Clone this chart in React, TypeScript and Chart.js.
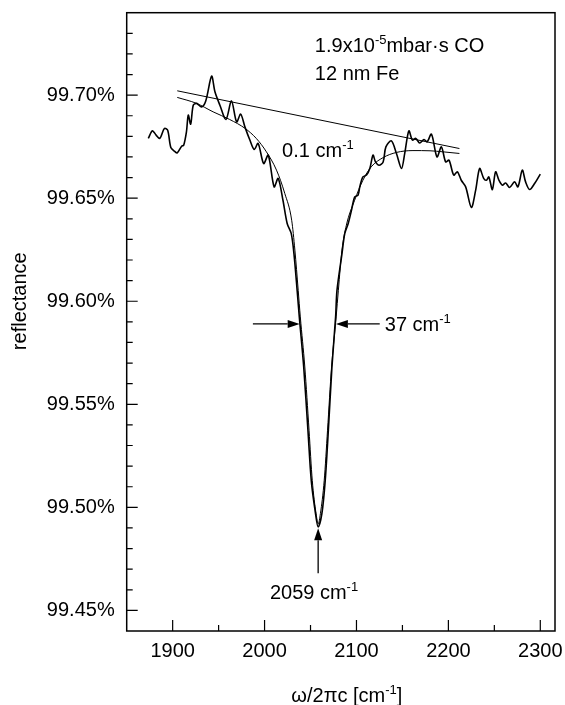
import React, { useEffect, useRef } from 'react';
import { Chart, registerables } from 'chart.js';

Chart.register(...registerables);

const FONT = "'Liberation Sans', Arial, Helvetica, sans-serif";

// measured spectrum (wavenumber, reflectance %)
const measX = [
  1873.5, 1878, 1882, 1886, 1891, 1894.6, 1898, 1902, 1905, 1909.8, 1912, 1915, 1917, 1919.6, 1922.4,
  1926, 1931.5, 1936, 1942.4, 1946, 1951.4, 1958, 1964, 1969.6, 1974, 1978.6, 1984, 1988.7, 1993,
  1999, 2004, 2010.4, 2014.8, 2020, 2024.6, 2029, 2032, 2035.5, 2037.8, 2042.6, 2047.2, 2050.8,
  2055.4, 2058.3, 2062.4, 2066, 2069.4, 2073.3, 2077.3, 2078.8, 2084.2, 2087.3, 2091, 2094.6, 2098,
  2101.7, 2103.6, 2107, 2110.9, 2114.5, 2118, 2120.7, 2124.6, 2129, 2132, 2138, 2143.5, 2149, 2152.5,
  2157, 2160.8, 2164.5, 2168.8, 2173.5, 2176.8, 2181.6, 2187.6, 2192.4, 2197, 2200.7, 2205.8, 2209.8,
  2214, 2218.8, 2225, 2229.7, 2234, 2238.4, 2241.3, 2244, 2247.8, 2251.4, 2255, 2258.7, 2262.3,
  2266.6, 2272, 2275.7, 2280.4, 2284, 2288.4, 2293.8, 2300,
];
const measY = [
  99.679, 99.6827, 99.6806, 99.679, 99.6838, 99.683, 99.6746, 99.6728, 99.672, 99.6752, 99.6757, 99.6822, 99.6903, 99.6859, 99.6951,
  99.696, 99.6943, 99.6972, 99.7092, 99.7016, 99.6951, 99.6882, 99.6972, 99.687, 99.6908, 99.6846, 99.6782, 99.6736, 99.6766,
  99.6668, 99.6709, 99.6555, 99.6596, 99.649, 99.6377, 99.6329, 99.623, 99.605, 99.5924, 99.5681, 99.5374, 99.5131,
  99.4971, 99.4905, 99.4971, 99.5131, 99.5374, 99.5681, 99.5924, 99.6053, 99.623, 99.6329, 99.6377, 99.6442, 99.6506,
  99.6515, 99.6555, 99.6603, 99.6612, 99.6644, 99.6709, 99.6676, 99.666, 99.6676, 99.6749, 99.6778, 99.6717, 99.6644, 99.6717,
  99.6827, 99.6782, 99.679, 99.6768, 99.6785, 99.6773, 99.6811, 99.67, 99.6749, 99.6676, 99.6684, 99.6612, 99.6628,
  99.6587, 99.6555, 99.6455, 99.6539, 99.6644, 99.6596, 99.6587, 99.6603, 99.6542, 99.6628, 99.6587, 99.6563, 99.6574,
  99.6552, 99.6579, 99.6555, 99.6636, 99.6579, 99.6542, 99.6571, 99.6617,
];

// fitted line shape
const fitX = [
  1905, 1926, 1944, 1962, 1979, 1991, 2002, 2013, 2022, 2029.5, 2033, 2036.6, 2038.9, 2043.8, 2048.4,
  2051.9, 2056, 2058.4, 2060.8, 2064.9, 2068.5, 2072.9, 2077.9, 2080.3, 2084.2, 2089, 2098, 2107,
  2116, 2129, 2143.5, 2161.5, 2180, 2194, 2212,
];
const fitY = [
  99.6989, 99.696, 99.6919, 99.6882, 99.6838, 99.679, 99.6725, 99.6636, 99.6523, 99.6393, 99.6248, 99.6053, 99.5924, 99.5681, 99.5374,
  99.5131, 99.4971, 99.492, 99.4971, 99.5131, 99.5374, 99.5681, 99.5924, 99.6053, 99.6248, 99.6369, 99.649, 99.6587,
  99.6652, 99.6697, 99.6722, 99.6731, 99.673, 99.6725, 99.6717,
];

// straight baseline
const baseX = [1905, 2212];
const baseY = [99.7021, 99.6741];

// axis ticks
const xMajorTicks = [1900, 2000, 2100, 2200, 2300];
const xMinorTicks = [1950, 2050, 2150, 2250];
const yMajorTicks = [99.45, 99.5, 99.55, 99.6, 99.65, 99.7];
const yMinorTicks = [
  99.46, 99.47, 99.48, 99.49, 99.51, 99.52, 99.53, 99.54, 99.56, 99.57, 99.58, 99.59,
  99.61, 99.62, 99.63, 99.64, 99.66, 99.67, 99.68, 99.69, 99.71, 99.72, 99.73,
];

type Part = [string, boolean];

function drawRich(ctx: CanvasRenderingContext2D, x: number, y: number, parts: Part[], align: 'left' | 'center' = 'left') {
  const widths = parts.map(([t, sup]) => {
    ctx.font = `${sup ? 13 : 20}px ${FONT}`;
    return ctx.measureText(t).width;
  });
  const total = widths.reduce((a, b) => a + b, 0);
  let cx = align === 'center' ? x - total / 2 : x;
  ctx.textAlign = 'left';
  ctx.textBaseline = 'alphabetic';
  parts.forEach(([t, sup], i) => {
    ctx.font = `${sup ? 13 : 20}px ${FONT}`;
    ctx.fillText(t, cx, sup ? y - 8 : y);
    cx += widths[i];
  });
}

function arrow(ctx: CanvasRenderingContext2D, x1: number, y1: number, x2: number, y2: number) {
  const ang = Math.atan2(y2 - y1, x2 - x1);
  const len = 12;
  const hw = 4;
  const bx = x2 - len * Math.cos(ang);
  const by = y2 - len * Math.sin(ang);
  ctx.beginPath();
  ctx.moveTo(x1, y1);
  ctx.lineTo(bx, by);
  ctx.stroke();
  ctx.beginPath();
  ctx.moveTo(x2, y2);
  ctx.lineTo(bx + hw * Math.sin(ang), by - hw * Math.cos(ang));
  ctx.lineTo(bx - hw * Math.sin(ang), by + hw * Math.cos(ang));
  ctx.closePath();
  ctx.fill();
}

export default function App() {
  const ref = useRef<HTMLCanvasElement>(null);

  useEffect(() => {
    const canvas = ref.current;
    if (!canvas) return;
    const toPts = (xs: number[], ys: number[]) => xs.map((x, i) => ({ x, y: ys[i] }));

    const overlay = {
      id: 'overlay',
      afterDraw(chart: any) {
        const { ctx, chartArea: a, scales } = chart;
        const px = (v: number) => scales.x.getPixelForValue(v);
        const py = (v: number) => scales.y.getPixelForValue(v);
        ctx.save();
        ctx.strokeStyle = '#000';
        ctx.fillStyle = '#000';
        ctx.lineWidth = 1.5;
        ctx.strokeRect(a.left, a.top, a.right - a.left, a.bottom - a.top);

        ctx.lineWidth = 1.2;
        ctx.beginPath();
        xMajorTicks.forEach((v) => { const x = px(v); ctx.moveTo(x, a.bottom); ctx.lineTo(x, a.bottom - 11); });
        xMinorTicks.forEach((v) => { const x = px(v); ctx.moveTo(x, a.bottom); ctx.lineTo(x, a.bottom - 6); });
        yMajorTicks.forEach((v) => { const y = py(v); ctx.moveTo(a.left, y); ctx.lineTo(a.left + 11, y); });
        yMinorTicks.forEach((v) => { const y = py(v); ctx.moveTo(a.left, y); ctx.lineTo(a.left + 6, y); });
        ctx.stroke();

        // axis titles
        drawRich(ctx, (a.left + a.right) / 2 + 6, 701.5, [['ω/2πc [cm', false], ['-1', true], [']', false]], 'center');
        ctx.save();
        ctx.translate(26, py(99.6));
        ctx.rotate(-Math.PI / 2);
        ctx.font = `20px ${FONT}`;
        ctx.textAlign = 'center';
        ctx.textBaseline = 'alphabetic';
        ctx.fillText('reflectance', 0, 0);
        ctx.restore();

        // annotations
        drawRich(ctx, px(2054.7), py(99.7243) + 7, [['1.9x10', false], ['-5', true], ['mbar·s CO', false]]);
        drawRich(ctx, px(2054.7), py(99.7107) + 7, [['12 nm Fe', false]]);
        drawRich(ctx, px(2019.1), py(99.6733) + 7, [['0.1 cm', false], ['-1', true]]);
        drawRich(ctx, px(2130.8), py(99.5888) + 7, [['37 cm', false], ['-1', true]]);
        drawRich(ctx, px(2005.8), py(99.4587) + 7, [['2059 cm', false], ['-1', true]]);

        ctx.lineWidth = 1.3;
        arrow(ctx, px(1987.3), py(99.589), px(2038.2), py(99.589));
        arrow(ctx, px(2125.3), py(99.589), px(2077.6), py(99.589));
        arrow(ctx, px(2058.3), py(99.468), px(2058.3), py(99.4898));
        ctx.restore();
      },
    };

    const chart = new Chart(canvas, {
      type: 'line',
      data: {
        datasets: [
          { data: toPts(measX, measY), borderColor: '#000', borderWidth: 1.6, pointRadius: 0, tension: 0.3, fill: false },
          { data: toPts(fitX, fitY), borderColor: '#000', borderWidth: 1, pointRadius: 0, tension: 0.4, cubicInterpolationMode: 'monotone', fill: false },
          { data: toPts(baseX, baseY), borderColor: '#000', borderWidth: 1, pointRadius: 0, tension: 0, fill: false },
        ],
      },
      options: {
        animation: false,
        responsive: false,
        maintainAspectRatio: false,
        layout: { padding: { left: 0, right: 10, top: 12.7, bottom: 0 } },
        plugins: { legend: { display: false }, tooltip: { enabled: false } },
        scales: {
          x: {
            type: 'linear',
            min: 1850,
            max: 2316,
            grid: { display: false, drawTicks: false },
            border: { display: false },
            afterBuildTicks: (s: any) => { s.ticks = xMajorTicks.map((v) => ({ value: v })); },
            afterFit: (s: any) => { s.height = 74; s.paddingLeft = 0; s.paddingRight = 0; },
            ticks: {
              padding: 8,
              color: '#000',
              font: { size: 20, family: FONT },
              maxRotation: 0,
              autoSkip: false,
              callback: (v: any) => String(v),
            },
          },
          y: {
            type: 'linear',
            min: 99.44,
            max: 99.74,
            grid: { display: false, drawTicks: false },
            border: { display: false },
            afterBuildTicks: (s: any) => { s.ticks = yMajorTicks.map((v) => ({ value: v })); },
            afterFit: (s: any) => { s.width = 126.7; s.paddingTop = 0; s.paddingBottom = 0; },
            ticks: {
              padding: 12,
              color: '#000',
              font: { size: 20, family: FONT },
              autoSkip: false,
              callback: (v: any) => Number(v).toFixed(2) + '%',
            },
          },
        },
      } as any,
      plugins: [overlay],
    });
    return () => chart.destroy();
  }, []);

  return (
    <div style={{ position: 'absolute', left: 0, top: 0, width: 565, height: 705, background: '#fff' }}>
      <canvas ref={ref} width={565} height={705} style={{ display: 'block' }} />
    </div>
  );
}
